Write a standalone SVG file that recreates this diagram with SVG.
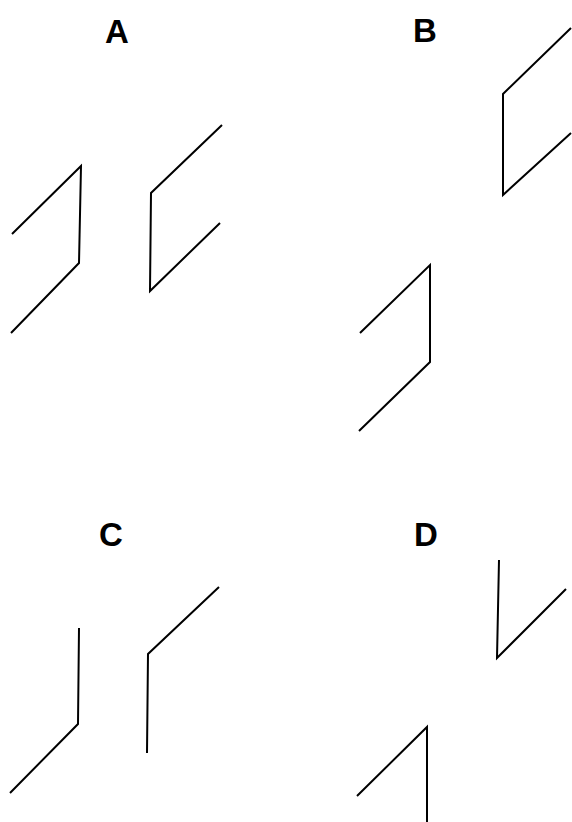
<svg xmlns="http://www.w3.org/2000/svg" width="572" height="822" viewBox="0 0 572 822">
<style>
.l{font-family:"Liberation Sans",Arial,sans-serif;font-weight:bold;font-size:33px;fill:#000;text-anchor:middle}
.s{fill:none;stroke:#000;stroke-width:2;stroke-linejoin:miter;stroke-linecap:butt}
</style>
<rect width="572" height="822" fill="#fff"/>
<g id="panelA">
<text class="l" x="117" y="43">A</text>
<polyline class="s" points="12,234 81,166 79,263 11,333"/>
<polyline class="s" points="222,125 151,193 150,291 220,223"/>
</g>
<g id="panelB">
<text class="l" x="425" y="42">B</text>
<polyline class="s" points="571,28 503,94 503,195 571,133"/>
<polyline class="s" points="360,333 430,265 430,362 359,431"/>
</g>
<g id="panelC">
<text class="l" x="111" y="546">C</text>
<polyline class="s" points="79,628 78,724 10,793"/>
<polyline class="s" points="219,587 148,654 147,753"/>
</g>
<g id="panelD">
<text class="l" x="426" y="546">D</text>
<polyline class="s" points="499,560 497,658 566,589"/>
<polyline class="s" points="357,796 427,727 427,822"/>
</g>
</svg>
